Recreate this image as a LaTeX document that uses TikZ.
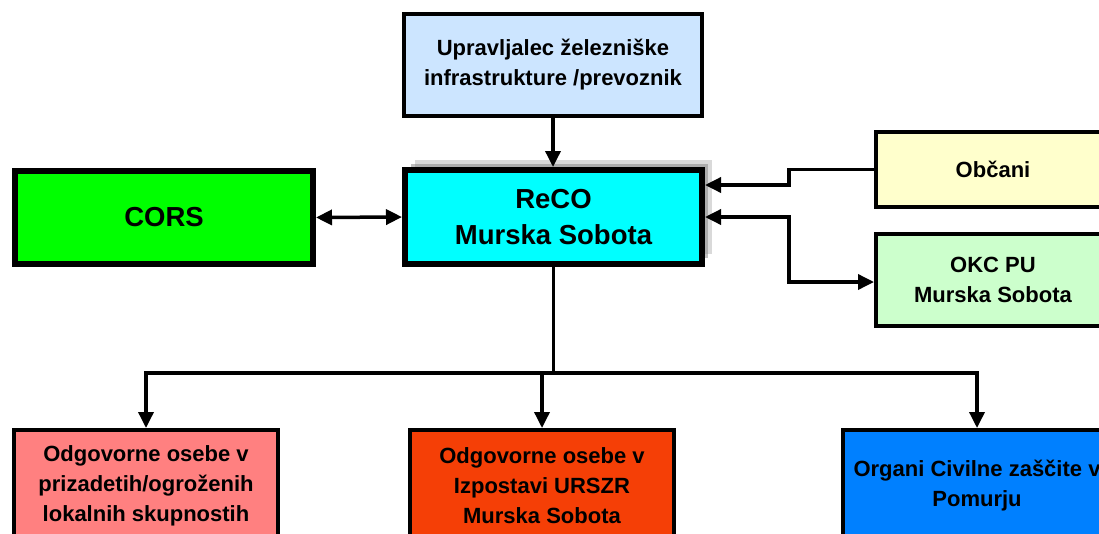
\documentclass[tikz,border=0pt]{standalone}
\usepackage{fontspec}
\setmainfont{Liberation Sans}
\usepackage{xcolor}
\usetikzlibrary{positioning, arrows.meta, shadows}

\definecolor{uprblue}{HTML}{CCE5FF}
\definecolor{recocyan}{HTML}{00FFFF}
\definecolor{corsgreen}{HTML}{00FF00}
\definecolor{obcyellow}{HTML}{FFFFCC}
\definecolor{okcgreen}{HTML}{CCFFCC}
\definecolor{odgpink}{HTML}{FF8080}
\definecolor{izporange}{HTML}{F53F06}
\definecolor{orgblue}{HTML}{0080FF}

\begin{document}
\begin{tikzpicture}[
  x = 1pt, y = -1pt,
  every node/.style = {
      draw, rectangle, line width=4pt, align=center,
      font=\fontsize{22}{30}\selectfont\bfseries
  },
  thickbox/.style = {
      line width=6pt, minimum width=297pt, minimum height=94pt,
      font=\fontsize{27.5}{36}\selectfont\bfseries
  },
  sidebox/.style = {minimum width=234pt},
  lowbox/.style = {minimum width=264pt, minimum height=111pt},
  tip/.tip = {Triangle[length=16pt, width=15pt]},
  conn/.style = {-tip, line width=3.5pt}
]
  \path[use as bounding box, clip] (0,0) rectangle (1099,533);

  % 上层节点
  \node[fill=uprblue, minimum width=298pt, minimum height=102pt] (upr) at (553,65)
      {Upravljalec železniške\\infrastrukture /prevoznik};
  % 中心节点
  \node[thickbox, fill=recocyan,
        drop shadow={shadow xshift=10pt, shadow yshift=10pt, opacity=.3, fill=gray},
        drop shadow={shadow xshift=6pt, shadow yshift=6pt, opacity=.5, fill=gray}]
      (reco) at (553.5,217) {ReCO\\Murska Sobota};
  \node[thickbox, fill=corsgreen, minimum width=298pt, minimum height=93pt]
      (cors) at (164,217.5) {CORS};
  % 右侧节点
  \node[sidebox, fill=obcyellow, minimum height=75pt] (obc) at (993,169.5) {Občani};
  \node[sidebox, fill=okcgreen, minimum height=92pt] (okc) at (993,280)
      {OKC PU\\Murska Sobota};
  % 下层节点
  \node[lowbox, fill=odgpink] (odg) at (146,485.5)
      {Odgovorne osebe v\\prizadetih/ogroženih\\lokalnih skupnostih};
  \node[lowbox, fill=izporange] (izp) at (542,485.5)
      {Odgovorne osebe v\\Izpostavi URSZR\\Murska Sobota};
  \node[lowbox, fill=orgblue, minimum width=268pt] (org) at (977,485.5)
      {Organi Civilne zaščite v\\Pomurju};

  % 连线
  \draw[conn] (upr.south) -- (upr.south |- reco.north);
  \draw[conn, tip-tip] (cors.east) -- (reco.west);
  \draw[conn] (obc.west) -- ++(-85pt,0) |- ([yshift=32pt]reco.east);
  \draw[conn, tip-tip] (reco.east) -- ++(84pt,0) |- ([yshift=-2pt]okc.west);
  \draw[line width=3.5pt] (reco.south) -- ++(0,-106pt) coordinate (split);
  \draw[conn] (split) -| (odg.north);
  \draw[conn] (split) -| (izp.north);
  \draw[conn] (split) -| (org.north);
\end{tikzpicture}
\end{document}
